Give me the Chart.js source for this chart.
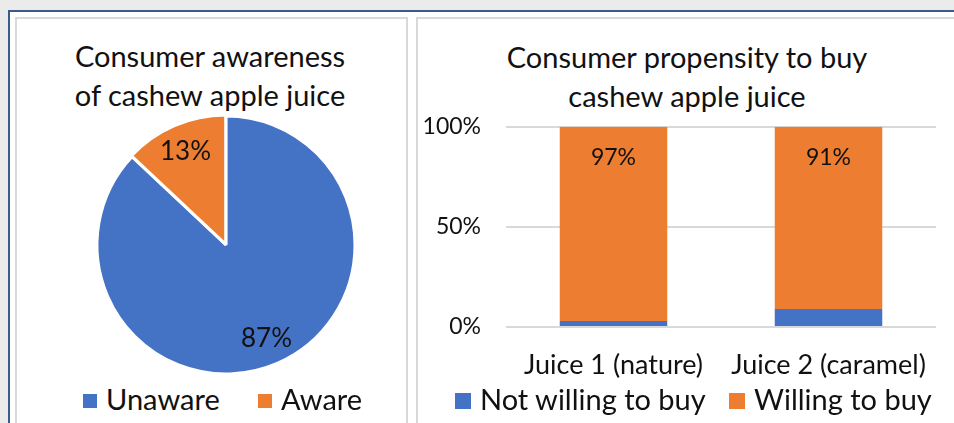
<!DOCTYPE html>
<html>
<head>
<meta charset="utf-8">
<script src="https://cdn.jsdelivr.net/npm/chart.js@4.4.1/dist/chart.umd.min.js"></script>
<style>
  html, body { margin: 0; padding: 0; }
  body { width: 954px; height: 423px; overflow: hidden; position: relative; background: #ebebeb; font-family: Lato, "Noto Sans", sans-serif; color: #111; }
  #frame { position: absolute; left: 8px; top: 10px; width: 960px; height: 430px; background: #fff; border-left: 2px solid #3b5b8c; border-top: 2px solid #3b5b8c; }
  .panel { position: absolute; background: #fff; border: 2px solid #d9d9d9; }
  #p1 { left: 15px; top: 17px; width: 389px; height: 420px; }
  #p2 { left: 416px; top: 17px; width: 560px; height: 420px; }
  .title { position: absolute; text-align: center; font-size: 29px; line-height: 39px; white-space: nowrap; }
  .legend { position: absolute; font-size: 29px; white-space: nowrap; }
  .legend span.item { position: absolute; top: 0; }
  .legend i { display: inline-block; vertical-align: middle; margin-right: 9px; position: relative; top: -2px; }
  canvas { position: absolute; }
</style>
</head>
<body>
<div id="frame"></div>
<div class="panel" id="p1"></div>
<div class="panel" id="p2"></div>

<div class="title" style="left:60px; top:36px; width:300px;">Consumer awareness<br>of cashew apple juice</div>
<div class="title" style="left:487px; top:37px; width:400px;">Consumer propensity to buy<br>cashew apple juice</div>

<canvas id="pie" width="272" height="272" style="left:90px; top:109px;"></canvas>
<canvas id="bars" width="536" height="297" style="left:418px; top:88px;"></canvas>

<div class="legend" id="pieLegend" style="left:0; top:381px;"></div>
<div class="legend" id="barLegend" style="left:0; top:381px;"></div>

<script>
const BLUE = '#4472c4';
const ORANGE = '#ed7d31';

// pie: consumer awareness
const awarenessLabels = ['Unaware', 'Aware'];
const awarenessValues = [87, 13];

// stacked bars: propensity to buy
const juiceLabels = ['Juice 1 (nature)', 'Juice 2 (caramel)'];
const notWilling = [3, 9];
const willing = [97, 91];
const yTicks = [0, 50, 100];

const FONT = 'Lato, "Noto Sans", sans-serif';

// percent labels inside the pie slices
const pieLabels = {
  id: 'pieLabels',
  afterDatasetsDraw(chart) {
    const ctx = chart.ctx;
    const meta = chart.getDatasetMeta(0);
    ctx.save();
    ctx.font = '26px ' + FONT;
    ctx.fillStyle = '#111';
    ctx.textAlign = 'center';
    ctx.textBaseline = 'middle';
    meta.data.forEach((arc, i) => {
      const p = arc.getProps(['x', 'y', 'startAngle', 'endAngle', 'outerRadius'], true);
      const mid = (p.startAngle + p.endAngle) / 2;
      const r = p.outerRadius * 0.79;
      ctx.fillText(awarenessValues[i] + '%', p.x + Math.cos(mid) * r, p.y + Math.sin(mid) * r);
    });
    ctx.restore();
  }
};

new Chart(document.getElementById('pie'), {
  type: 'pie',
  data: {
    labels: awarenessLabels,
    datasets: [{
      data: awarenessValues,
      backgroundColor: [BLUE, ORANGE],
      borderColor: '#fff',
      borderWidth: 3,
      offset: [0, 3],
      radius: 129,
    }]
  },
  options: {
    responsive: false,
    animation: false,
    layout: { padding: 0 },
    plugins: { legend: { display: false }, tooltip: { enabled: false } }
  },
  plugins: [pieLabels]
});

// "97%" / "91%" near the top of the orange segments
const barLabels = {
  id: 'barLabels',
  afterDatasetsDraw(chart) {
    const ctx = chart.ctx;
    const meta = chart.getDatasetMeta(1);
    ctx.save();
    ctx.font = '23px ' + FONT;
    ctx.fillStyle = '#111';
    ctx.textAlign = 'center';
    ctx.textBaseline = 'middle';
    meta.data.forEach((bar, i) => {
      ctx.fillText(willing[i] + '%', bar.x, bar.y + 31);
    });
    ctx.restore();
  }
};

new Chart(document.getElementById('bars'), {
  type: 'bar',
  data: {
    labels: juiceLabels,
    datasets: [
      { label: 'Not willing to buy', data: notWilling, backgroundColor: BLUE },
      { label: 'Willing to buy', data: willing, backgroundColor: ORANGE }
    ]
  },
  options: {
    responsive: false,
    animation: false,
    layout: { padding: { top: 28, right: 18, left: 0, bottom: 0 } },
    datasets: { bar: { categoryPercentage: 1, barPercentage: 0.5 } },
    plugins: { legend: { display: false }, tooltip: { enabled: false } },
    scales: {
      x: {
        stacked: true,
        grid: { display: false },
        border: { display: false },
        ticks: { color: '#111', font: { family: FONT, size: 27 }, padding: 14 },
        afterFit: s => { s.height = 58; }
      },
      y: {
        stacked: true,
        min: yTicks[0],
        max: yTicks[yTicks.length - 1],
        afterBuildTicks: s => { s.ticks = yTicks.map(v => ({ value: v })); },
        grid: { color: '#d9d9d9', lineWidth: 2, drawTicks: false },
        border: { display: false },
        ticks: { color: '#111', font: { family: FONT, size: 23 }, padding: 25, callback: v => v + '%' },
        afterFit: s => { s.width = 88; }
      }
    }
  },
  plugins: [barLabels]
});

// HTML legends built from the series names and colours
function buildLegend(el, names, colors, lefts, box) {
  names.forEach((n, i) => {
    const s = document.createElement('span');
    s.className = 'item';
    s.style.left = lefts[i] + 'px';
    s.innerHTML = '<i style="width:' + box + 'px;height:' + box + 'px;background:' + colors[i] + '"></i>' + n;
    el.appendChild(s);
  });
}
buildLegend(document.getElementById('pieLegend'), awarenessLabels, [BLUE, ORANGE], [83, 258], 14);
buildLegend(document.getElementById('barLegend'), ['Not willing to buy', 'Willing to buy'], [BLUE, ORANGE], [455, 729], 16);
</script>
</body>
</html>
